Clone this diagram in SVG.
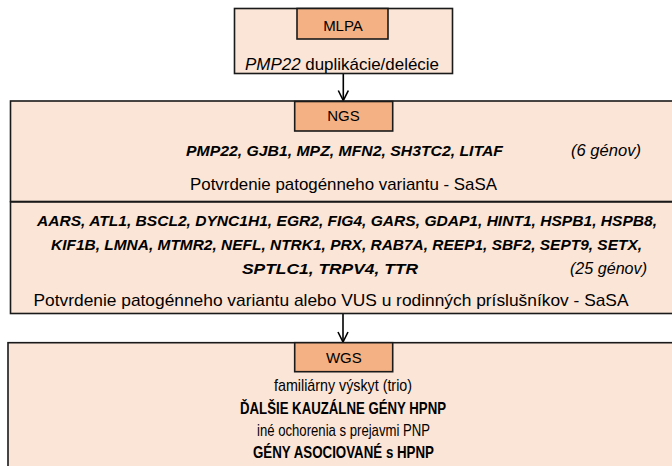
<svg xmlns="http://www.w3.org/2000/svg" width="672" height="466" viewBox="0 0 672 466">
<defs>
<marker id="arr" viewBox="0 0 12 12" refX="11" refY="6" markerWidth="12" markerHeight="12" markerUnits="userSpaceOnUse" orient="auto">
<path d="M1,1 L11,6 L1,11" fill="none" stroke="#000" stroke-width="1.6"/>
</marker>
</defs>
<style>
.big{fill:#FBE5D6;stroke:#1a1a1a;stroke-width:1.6}
.lbl{fill:#F4B183;stroke:#1a1a1a;stroke-width:1.6}
text{font-family:"Liberation Sans",Arial,sans-serif;fill:#000;text-anchor:middle}
.t{font-size:17px}
.g{font-size:15.5px}
.l{font-size:15px}
.bi{font-weight:bold;font-style:italic}
.i{font-style:italic}
.b{font-weight:bold}
.conn{stroke:#000;stroke-width:1.6;fill:none}
</style>
<rect width="672" height="466" fill="#fff"/>
<g id="connectors">
<line class="conn" x1="343.3" y1="73.5" x2="343.3" y2="100.5" marker-end="url(#arr)"/>
<line class="conn" x1="343" y1="313.5" x2="343" y2="342" marker-end="url(#arr)"/>
</g>
<g id="mlpa">
<rect class="big" x="234.5" y="8.5" width="218" height="65"/>
<rect class="lbl" x="297" y="8.5" width="91" height="30.5"/>
<text class="l" x="343" y="30.5">MLPA</text>
<text class="t" x="342" y="69.5" textLength="194" lengthAdjust="spacingAndGlyphs"><tspan class="i">PMP22</tspan> duplikácie/delécie</text>
</g>
<g id="ngs">
<rect class="big" x="10.5" y="101" width="700" height="100.5"/>
<rect class="big" x="10.5" y="202" width="700" height="111.5"/>
<rect class="lbl" x="294.7" y="101.5" width="98" height="29.5"/>
<text class="l" x="343.5" y="121">NGS</text>
<text class="g bi" x="344.5" y="156" textLength="317" lengthAdjust="spacingAndGlyphs">PMP22, GJB1, MPZ, MFN2, SH3TC2, LITAF</text>
<text class="t i" x="606" y="156" textLength="70" lengthAdjust="spacingAndGlyphs">(6 génov)</text>
<text class="t" x="343.5" y="189.5" textLength="307" lengthAdjust="spacingAndGlyphs">Potvrdenie  patogénneho variantu - SaSA</text>
<text class="g bi" x="347" y="226" textLength="620" lengthAdjust="spacingAndGlyphs">AARS, ATL1, BSCL2, DYNC1H1, EGR2, FIG4, GARS, GDAP1, HINT1, HSPB1, HSPB8,</text>
<text class="g bi" x="346.5" y="250" textLength="591" lengthAdjust="spacingAndGlyphs">KIF1B, LMNA, MTMR2, NEFL, NTRK1, PRX, RAB7A, REEP1, SBF2, SEPT9, SETX,</text>
<text class="g bi" x="330" y="274" textLength="176" lengthAdjust="spacingAndGlyphs">SPTLC1, TRPV4, TTR</text>
<text class="t i" x="608.5" y="274" textLength="77" lengthAdjust="spacingAndGlyphs">(25 génov)</text>
<text class="t" x="331" y="305.5" textLength="595" lengthAdjust="spacingAndGlyphs">Potvrdenie  patogénneho variantu alebo VUS u rodinných príslušníkov - SaSA</text>
</g>
<g id="wgs">
<rect class="big" x="8" y="342.7" width="700" height="140"/>
<rect class="lbl" x="294.7" y="342.7" width="98" height="29"/>
<text class="l" x="343.8" y="362.5">WGS</text>
<text class="t" x="343" y="390.5" textLength="138" lengthAdjust="spacingAndGlyphs">familiárny výskyt (trio)</text>
<text class="t b" x="343" y="414" textLength="206" lengthAdjust="spacingAndGlyphs">ĎALŠIE KAUZÁLNE GÉNY HPNP</text>
<text class="t" x="343.5" y="436" textLength="173" lengthAdjust="spacingAndGlyphs">iné ochorenia s prejavmi PNP</text>
<text class="t b" x="343.5" y="458" textLength="181" lengthAdjust="spacingAndGlyphs">GÉNY ASOCIOVANÉ s HPNP</text>
</g>
</svg>
